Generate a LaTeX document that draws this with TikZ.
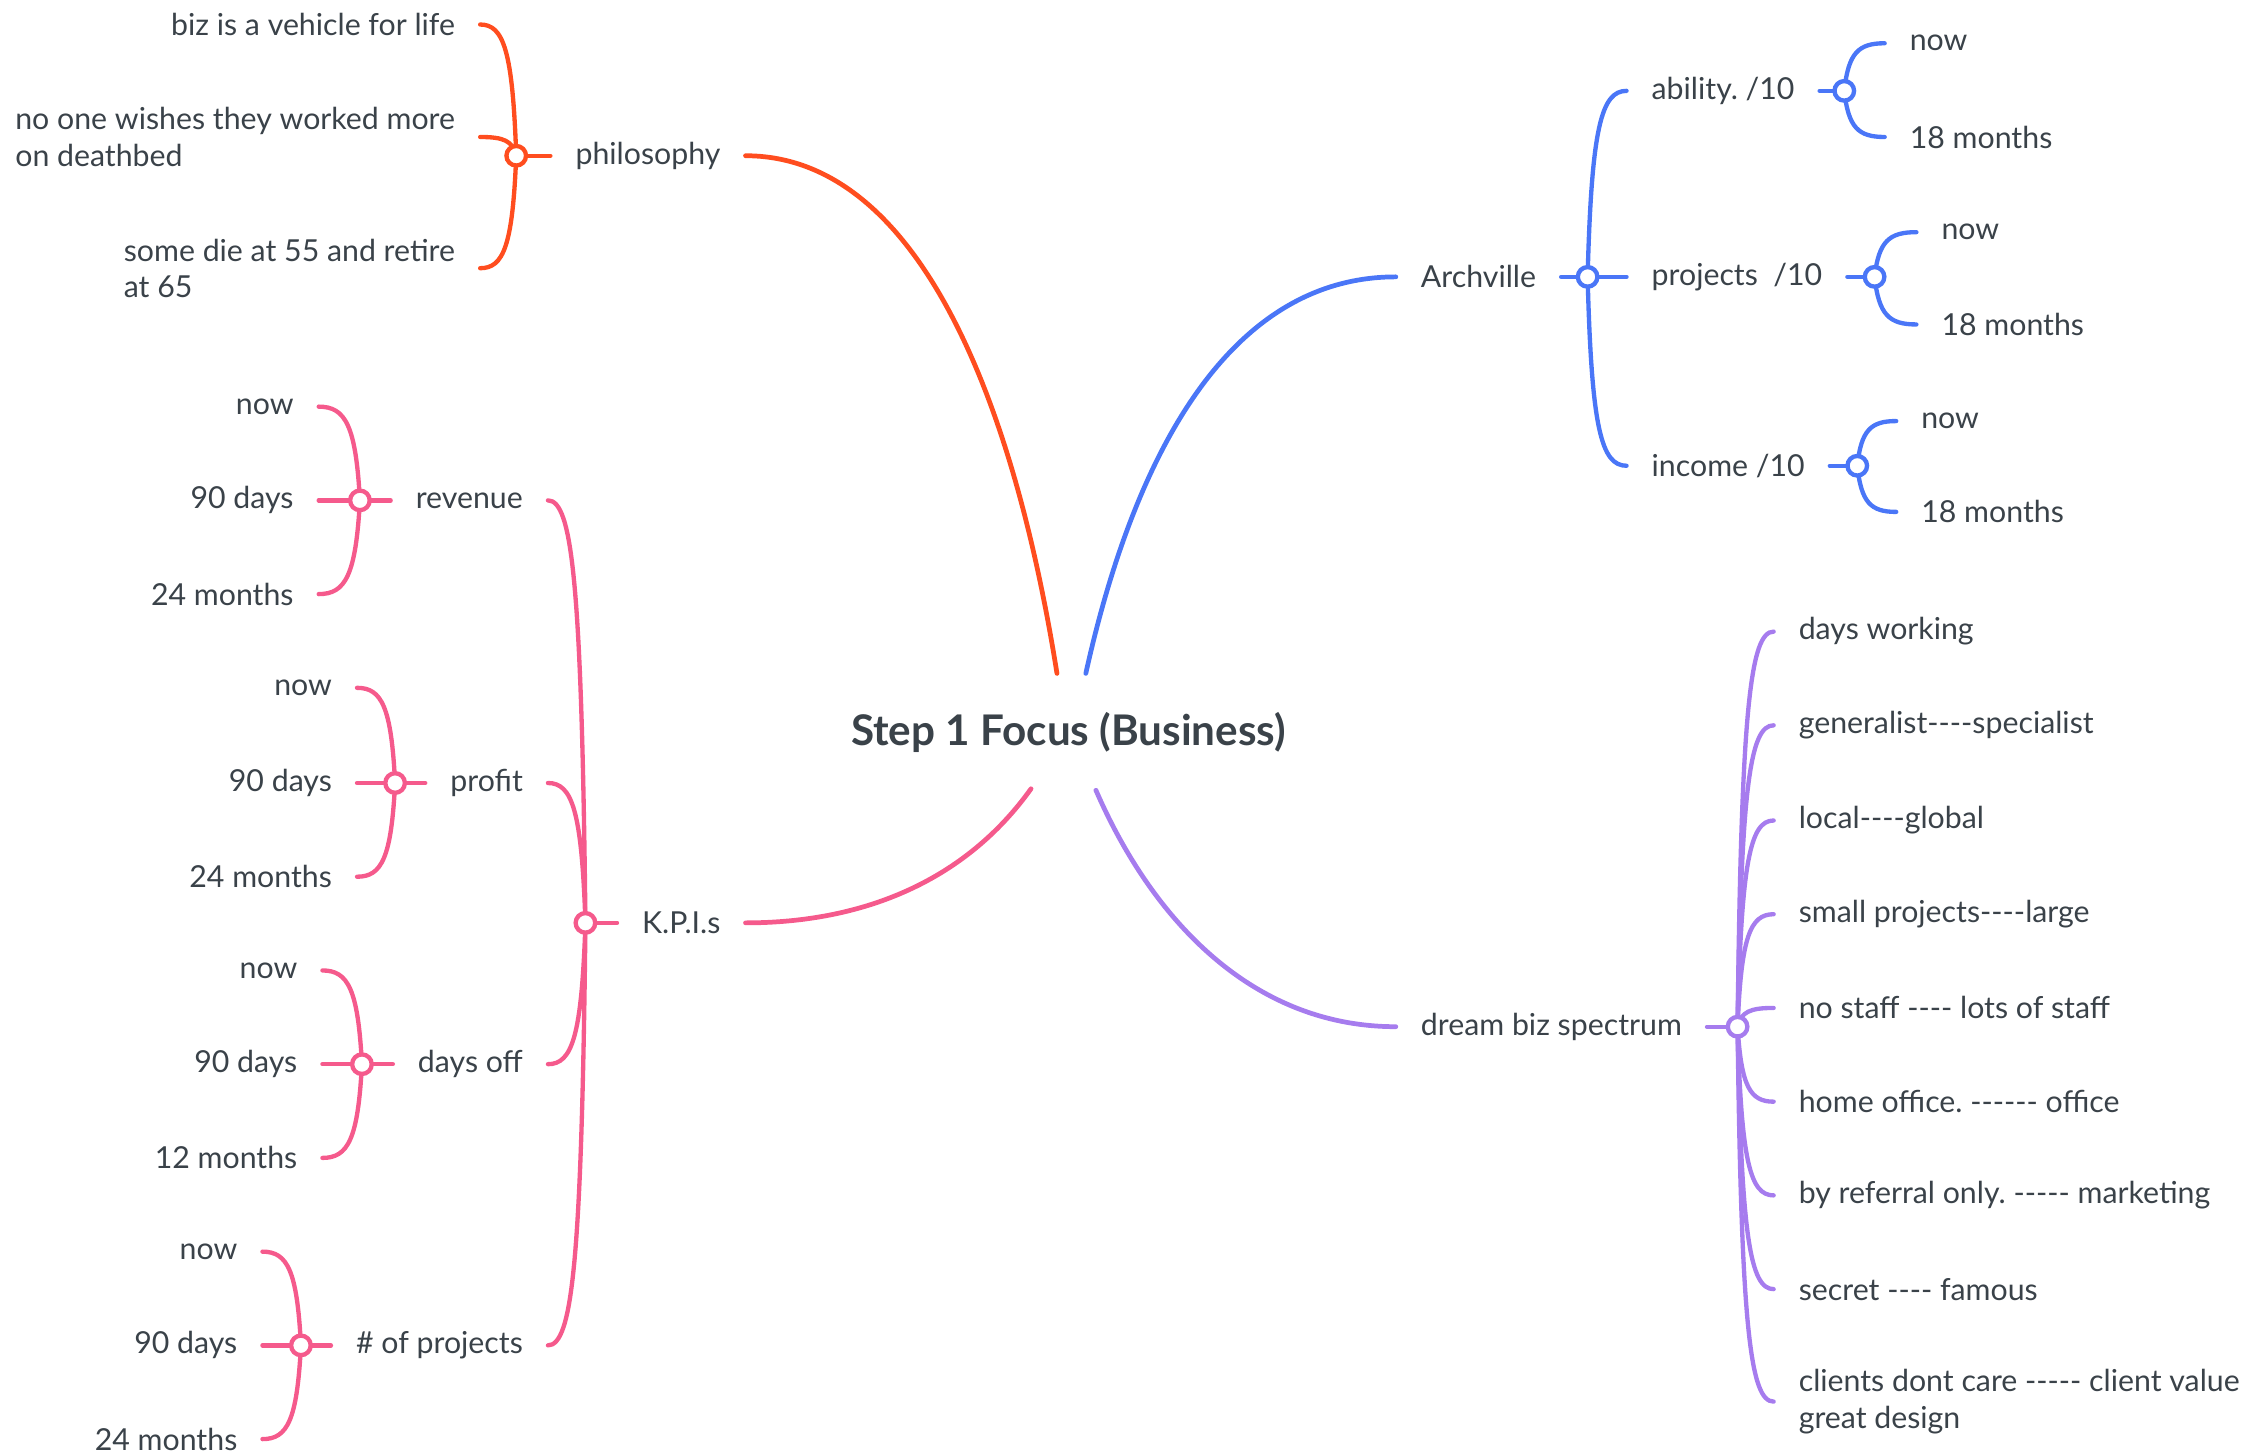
\documentclass[tikz,border=0pt]{standalone}
\usepackage{fontspec}
\setmainfont{Lato}[Ligatures=TeXOff]
\usetikzlibrary{calc}
\frenchspacing
\definecolor{ink}{HTML}{3A4249}
\definecolor{cph}{HTML}{FF4D1F}
\definecolor{car}{HTML}{4A76F7}
\definecolor{ckp}{HTML}{F55A8C}
\definecolor{cdb}{HTML}{A67CEE}
\tikzset{
  tx/.style={text=ink, font=\fontsize{14.7}{17.5}\selectfont, inner xsep=12pt, inner ysep=2pt},
  root/.style={text=ink, font=\fontsize{20.5}{24}\selectfont\bfseries},
  br/.style={line width=2.1pt, line cap=round},
  mbr/.style={line width=2.3pt, line cap=round},
  hub/.style={circle, draw, fill=white, line width=2.1pt, inner sep=0pt, minimum size=9.5pt},
  fork/.style={to path={let \p1=(\tikztostart), \p2=(\tikztotarget) in
    .. controls (\x1+0.1*\x2-0.1*\x1, \y1+0.8*\y2-0.8*\y1) and (\x1+0.35*\x2-0.35*\x1, \y2) .. (\tikztotarget)}}
}
\begin{document}
\begin{tikzpicture}[x=0.7pt, y=-0.7pt]
\useasboundingbox (0,0) rectangle (1568,1009);
\node[root] (root) at (741,508){Step 1 Focus (Business)};
\coordinate (r1) at (733,467);
\coordinate (r2) at (753,467);
\coordinate (r3) at (715,547);
\coordinate (r4) at (760,548);
% philosophy
\node[tx, anchor=east] (ph) at (517,108){philosophy};
\node[tx, anchor=east] (ph1) at (333,17){biz is a vehicle for life};
\node[tx, anchor=east, align=left] (ph2) at (333,95){no one wishes they worked more\\on deathbed};
\node[tx, anchor=east, align=left] (ph3) at (333,186){some die at 55 and retire\\at 65};
\coordinate (phh) at (358,108);
\draw[mbr, cph](r1) .. controls (700,260) and (630,108) .. (ph.east);
\draw[br, cph](phh) -- (ph.west);
\draw[br, cph](phh) to[fork] (ph1.east);
\draw[br, cph](phh) to[fork] (ph2.east);
\draw[br, cph](phh) to[fork] (ph3.east);
\node[hub, draw=cph] (phc) at (phh){};
% Archville
\node[tx, anchor=west] (ar) at (968,192){Archville};
\node[tx, anchor=west] (ab) at (1128,63){ability. /10};
\node[tx, anchor=west] (pj) at (1128,192){projects~ /10};
\node[tx, anchor=west] (in) at (1128,323){income /10};
\node[tx, anchor=west] (ab1) at (1307,30){now};
\node[tx, anchor=west] (ab2) at (1307,95){18 months};
\node[tx, anchor=west] (pj1) at (1329,161){now};
\node[tx, anchor=west] (pj2) at (1329,225){18 months};
\node[tx, anchor=west] (in1) at (1315,292){now};
\node[tx, anchor=west] (in2) at (1315,355){18 months};
\coordinate (arh) at (1101,192);
\coordinate (abh) at (1279,63);
\coordinate (pjh) at (1300,192);
\coordinate (inh) at (1288,323);
\draw[mbr, car](r2) .. controls (790,300) and (860,192) .. (ar.west);
\draw[br, car](ar.east) -- (arh);
\draw[br, car](arh) to[fork] (ab.west);
\draw[br, car](arh) to[fork] (pj.west);
\draw[br, car](arh) to[fork] (in.west);
\draw[br, car](ab.east) -- (abh);
\draw[br, car](abh) to[fork] (ab1.west);
\draw[br, car](abh) to[fork] (ab2.west);
\draw[br, car](pj.east) -- (pjh);
\draw[br, car](pjh) to[fork] (pj1.west);
\draw[br, car](pjh) to[fork] (pj2.west);
\draw[br, car](in.east) -- (inh);
\draw[br, car](inh) to[fork] (in1.west);
\draw[br, car](inh) to[fork] (in2.west);
\node[hub, draw=car] (arc) at (arh){};
\node[hub, draw=car] (abc) at (abh){};
\node[hub, draw=car] (pjc) at (pjh){};
\node[hub, draw=car] (inc) at (inh){};
% K.P.I.s
\node[tx, anchor=east] (kp) at (517,640){K.P.I.s};
\node[tx, anchor=east] (rv) at (380,347){revenue};
\node[tx, anchor=east] (pf) at (380,543){profit};
\node[tx, anchor=east] (do) at (380,738){days off};
\node[tx, anchor=east] (np) at (380,933){\# of projects};
\node[tx, anchor=east] (rv1) at (221,282){now};
\node[tx, anchor=east] (rv2) at (221,347){90 days};
\node[tx, anchor=east] (rv3) at (221,412){24 months};
\node[tx, anchor=east] (pf1) at (247.6,477){now};
\node[tx, anchor=east] (pf2) at (247.6,543){90 days};
\node[tx, anchor=east] (pf3) at (247.6,608){24 months};
\node[tx, anchor=east] (do1) at (223.6,673){now};
\node[tx, anchor=east] (do2) at (223.6,738){90 days};
\node[tx, anchor=east] (do3) at (223.6,803){12 months};
\node[tx, anchor=east] (np1) at (182,868){now};
\node[tx, anchor=east] (np2) at (182,933){90 days};
\node[tx, anchor=east] (np3) at (182,998){24 months};
\coordinate (kph) at (406,640);
\coordinate (rvh) at (249.6,347);
\coordinate (pfh) at (274,543);
\coordinate (doh) at (251,738);
\coordinate (nph) at (208.7,933);
\draw[mbr, ckp](r3) .. controls (670,610) and (600,640) .. (kp.east);
\draw[br, ckp](kph) -- (kp.west);
\draw[br, ckp](kph) to[fork] (rv.east);
\draw[br, ckp](kph) to[fork] (pf.east);
\draw[br, ckp](kph) to[fork] (do.east);
\draw[br, ckp](kph) to[fork] (np.east);
\draw[br, ckp](rvh) -- (rv.west);
\draw[br, ckp](rvh) to[fork] (rv1.east);
\draw[br, ckp](rvh) to[fork] (rv2.east);
\draw[br, ckp](rvh) to[fork] (rv3.east);
\draw[br, ckp](pfh) -- (pf.west);
\draw[br, ckp](pfh) to[fork] (pf1.east);
\draw[br, ckp](pfh) to[fork] (pf2.east);
\draw[br, ckp](pfh) to[fork] (pf3.east);
\draw[br, ckp](doh) -- (do.west);
\draw[br, ckp](doh) to[fork] (do1.east);
\draw[br, ckp](doh) to[fork] (do2.east);
\draw[br, ckp](doh) to[fork] (do3.east);
\draw[br, ckp](nph) -- (np.west);
\draw[br, ckp](nph) to[fork] (np1.east);
\draw[br, ckp](nph) to[fork] (np2.east);
\draw[br, ckp](nph) to[fork] (np3.east);
\node[hub, draw=ckp] (kpc) at (kph){};
\node[hub, draw=ckp] (rvc) at (rvh){};
\node[hub, draw=ckp] (pfc) at (pfh){};
\node[hub, draw=ckp] (doc) at (doh){};
\node[hub, draw=ckp] (npc) at (nph){};
% dream biz spectrum
\node[tx, anchor=west] (db) at (968,712){dream biz spectrum};
\node[tx, anchor=west] (db1) at (1230,438){days working};
\node[tx, anchor=west] (db2) at (1230,503){generalist----specialist};
\node[tx, anchor=west] (db3) at (1230,569){local----global};
\node[tx, anchor=west] (db4) at (1230,634){small projects----large};
\node[tx, anchor=west] (db5) at (1230,699){no staff ---- lots of staff};
\node[tx, anchor=west] (db6) at (1230,764){home office. ------ office};
\node[tx, anchor=west] (db7) at (1230,829){by referral only. ----- marketing};
\node[tx, anchor=west] (db8) at (1230,894){secret ---- famous};
\node[tx, anchor=west, align=left] (db9) at (1230,972){clients dont care ----- client value\\great design};
\coordinate (dbh) at (1205,712);
\draw[mbr, cdb](r4) .. controls (800,640) and (870,712) .. (db.west);
\draw[br, cdb](db.east) -- (dbh);
\draw[br, cdb](dbh) to[fork] (db1.west);
\draw[br, cdb](dbh) to[fork] (db2.west);
\draw[br, cdb](dbh) to[fork] (db3.west);
\draw[br, cdb](dbh) to[fork] (db4.west);
\draw[br, cdb](dbh) to[fork] (db5.west);
\draw[br, cdb](dbh) to[fork] (db6.west);
\draw[br, cdb](dbh) to[fork] (db7.west);
\draw[br, cdb](dbh) to[fork] (db8.west);
\draw[br, cdb](dbh) to[fork] (db9.west);
\node[hub, draw=cdb] (dbc) at (dbh){};
\end{tikzpicture}
\end{document}
